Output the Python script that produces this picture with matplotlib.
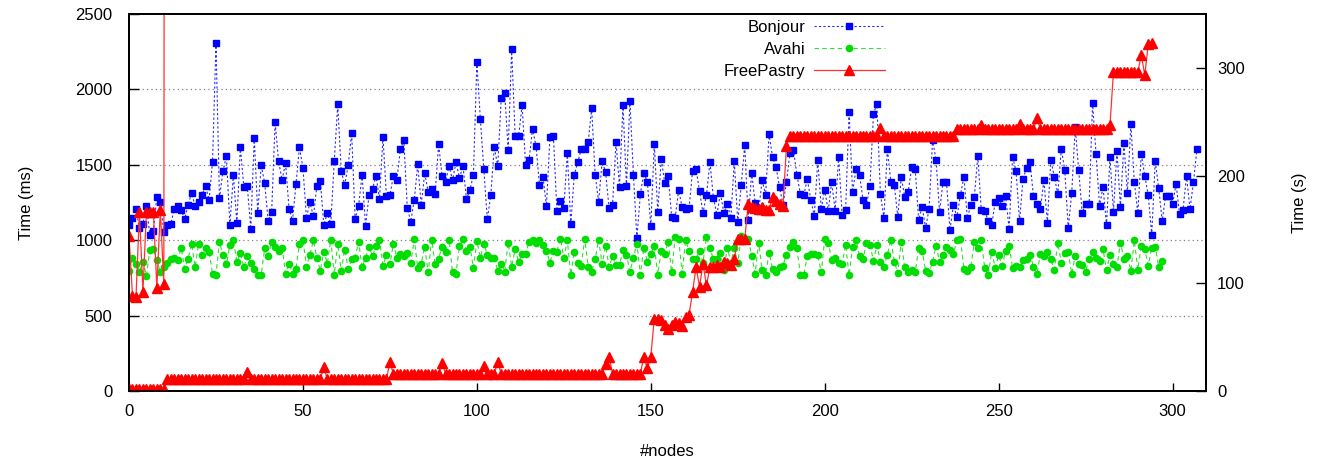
import numpy as np
import matplotlib
matplotlib.use('Agg')
from matplotlib import pyplot as plt

plt.rcParams['font.family'] = ['Liberation Sans', 'DejaVu Sans']

# Bonjour (ms), one value per node
bonjour = [1099, 1146, 1205, 1079, 1110, 1225, 1035, 1064, 1287, 1254,
           1057, 1101, 1106, 1205, 1229, 1198, 1141, 1234, 1313, 1227,
           1254, 1302, 1360, 1267, 1516, 2307, 1280, 1457, 1556, 1101,
           1433, 1115, 1618, 1353, 1360, 1075, 1678, 1181, 1497, 1380,
           1128, 1187, 1781, 1523, 1399, 1512, 1207, 1128, 1373, 1618,
           1479, 1148, 1251, 1159, 1360, 1391, 1101, 1179, 1108, 1525,
           1901, 1459, 1366, 1497, 1709, 1141, 1227, 1433, 1095, 1298,
           1340, 1426, 1274, 1684, 1293, 1300, 1426, 1399, 1603, 1662,
           1214, 1123, 1267, 1503, 1234, 1444, 1320, 1338, 1307, 1636,
           1426, 1386, 1492, 1399, 1516, 1413, 1492, 1274, 1333, 1433,
           2179, 1801, 1470, 1139, 1300, 1616, 1492, 1940, 1976, 1598,
           2265, 1691, 1691, 1894, 1499, 1532, 1737, 1625, 1366, 1419,
           1227, 1684, 1691, 1194, 1260, 1214, 1578, 1108, 1433, 1519,
           1603, 1605, 1651, 1874, 1433, 1254, 1523, 1452, 1214, 1234,
           1651, 1353, 1896, 1360, 1923, 1433, 1015, 1307, 1446, 1386,
           1095, 1638, 1187, 1539, 1380, 1426, 1154, 1148, 1333, 1220,
           1207, 1214, 1459, 1472, 1327, 1181, 1300, 1519, 1280, 1168,
           1313, 1181, 1240, 1148, 1525, 1121, 1366, 1631, 1134, 1446,
           1247, 1194, 1399, 1300, 1704, 1552, 1486, 1353, 1234, 1386,
           1578, 1598, 1433, 1307, 1300, 1406, 1267, 1161, 1532, 1207,
           1333, 1194, 1386, 1194, 1552, 1168, 1201, 1850, 1320, 1472,
           1433, 1267, 1234, 1360, 1837, 1903, 1307, 1148, 1605, 1386,
           1366, 1154, 1419, 1287, 1320, 1486, 1472, 1134, 1221, 1081,
           1207, 1664, 1532, 1187, 1386, 1386, 1068, 1234, 1154, 1300,
           1419, 1148, 1234, 1287, 1558, 1201, 1194, 1128, 1101, 1254,
           1280, 1227, 1293, 1075, 1552, 1459, 1128, 1406, 1479, 1519,
           1293, 1240, 1207, 1399, 1115, 1532, 1419, 1307, 1605, 1466,
           1081, 1313, 1750, 1466, 1181, 1240, 1240, 1909, 1572, 1227,
           1353, 1101, 1552, 1187, 1592, 1221, 1645, 1313, 1770, 1386,
           1181, 1572, 1426, 1300, 1035, 1525, 1346, 1128, 1293, 1293,
           1240, 1373, 1174, 1201, 1426, 1207, 1386, 1605]

# Avahi (ms)
avahi = [797, 885, 845, 792, 858, 764, 938, 940, 870, 786,
         825, 852, 874, 885, 870, 947, 812, 878, 978, 821,
         978, 905, 945, 925, 779, 772, 991, 900, 839, 971,
         998, 858, 918, 819, 898, 852, 812, 772, 772, 945,
         896, 991, 958, 931, 951, 779, 845, 779, 812, 978,
         1004, 825, 905, 998, 883, 799, 925, 845, 1004, 770,
         978, 799, 938, 810, 872, 885, 991, 819, 885, 958,
         892, 962, 1004, 832, 905, 839, 978, 883, 911, 894,
         918, 852, 1005, 817, 843, 958, 786, 1004, 839, 878,
         958, 925, 1004, 786, 779, 964, 1009, 927, 958, 817,
         995, 885, 975, 903, 885, 885, 797, 845, 792, 984,
         825, 940, 858, 907, 907, 991, 1004, 984, 1004, 971,
         931, 852, 931, 925, 1011, 885, 998, 770, 925, 852,
         832, 1009, 825, 790, 872, 1004, 839, 962, 823, 892,
         834, 834, 934, 903, 790, 883, 978, 770, 951, 858,
         911, 960, 772, 931, 911, 991, 786, 1020, 1011, 779,
         998, 931, 872, 872, 931, 852, 1020, 945, 872, 878,
         918, 803, 951, 850, 949, 847, 1025, 1011, 1011, 896,
         779, 984, 805, 772, 918, 812, 786, 819, 832, 905,
         958, 991, 945, 772, 770, 896, 911, 911, 905, 786,
         1011, 984, 870, 885, 852, 845, 971, 766, 958, 1004,
         892, 872, 984, 971, 865, 969, 858, 825, 903, 1004,
         858, 781, 989, 819, 786, 803, 786, 951, 929, 799,
         783, 858, 964, 858, 903, 958, 938, 911, 1002, 1011,
         812, 799, 825, 989, 945, 998, 814, 766, 925, 817,
         900, 832, 931, 964, 817, 832, 819, 870, 876, 905,
         825, 777, 909, 892, 925, 872, 805, 982, 852, 918,
         922, 777, 896, 843, 836, 792, 878, 925, 885, 865,
         940, 803, 903, 845, 819, 984, 878, 892, 797, 998,
         805, 964, 940, 832, 951, 958, 823, 865]

# FreePastry (s)
freepastry = [2, 2, 2, 2, 2, 2, 2, 2, 2, 2,
              2, 11, 11, 11, 11, 11, 11, 11, 11, 11,
              11, 11, 11, 11, 11, 11, 11, 11, 11, 11,
              11, 11, 11, 11, 18, 11, 11, 11, 11, 11,
              11, 11, 11, 11, 11, 11, 11, 11, 11, 11,
              11, 11, 11, 11, 11, 11, 22, 11, 11, 11,
              11, 11, 11, 11, 11, 11, 11, 11, 11, 11,
              11, 11, 11, 11, 11, 27, 16, 16, 16, 16,
              16, 16, 16, 16, 16, 16, 16, 16, 16, 16,
              26, 16, 16, 16, 16, 16, 16, 16, 16, 16,
              16, 16, 23, 16, 16, 16, 27, 16, 16, 16,
              16, 16, 16, 16, 16, 16, 16, 16, 16, 16,
              16, 16, 16, 16, 16, 16, 16, 16, 16, 16,
              16, 16, 16, 16, 16, 16, 16, 25, 32, 16,
              16, 16, 16, 16, 16, 16, 16, 16, 32, 21,
              32, 67, 67, 66, 61, 58, 61, 64, 63, 60,
              69, 71, 92, 115, 97, 118, 98, 115, 115, 117,
              115, 120, 119, 117, 123, 141, 141, 141, 174, 171,
              170, 169, 171, 168, 168, 180, 176, 174, 172, 227,
              237, 237, 237, 237, 237, 237, 237, 237, 237, 237,
              237, 237, 237, 237, 237, 237, 237, 237, 237, 237,
              237, 237, 237, 237, 237, 237, 244, 237, 237, 237,
              237, 237, 237, 237, 237, 237, 237, 237, 237, 237,
              237, 237, 237, 237, 237, 237, 237, 237, 243, 243,
              243, 243, 243, 243, 243, 247, 243, 243, 243, 243,
              243, 243, 243, 243, 243, 243, 248, 243, 243, 243,
              243, 253, 243, 243, 243, 243, 243, 243, 243, 243,
              243, 243, 243, 243, 243, 243, 243, 243, 243, 243,
              243, 243, 247, 296, 296, 296, 296, 296, 296, 296,
              296, 312, 293, 322, 323]

# first FreePastry run on the first nodes (last one goes off the scale)
fp_first_nodes = [0, 1, 2, 3, 4, 5, 6, 7, 8, 9, 10, 11]
fp_first = [144, 88, 87, 166, 92, 166, 166, 166, 96, 168, 99, 3000]

xticks = [0, 50, 100, 150, 200, 250, 300]
yticks_ms = [0, 500, 1000, 1500, 2000, 2500]
yticks_s = [0, 100, 200, 300]

blue = '#0000ff'
green = '#00dd00'
red = '#ff0000'

fig = plt.figure(figsize=(13.26, 4.63), dpi=100)
ax = fig.add_axes([0.0973, 0.1555, 0.8122, 0.8143])
ax2 = ax.twinx()

l1, = ax.plot(np.arange(len(bonjour)), bonjour, color='#2a2aff', lw=0.8,
              ls=(0, (2, 2)), marker='s', ms=5, mec=blue, mfc=blue,
              label='Bonjour')
l2, = ax.plot(np.arange(len(avahi)), avahi, color='#33dd33', lw=0.8,
              ls=(0, (4, 3)), marker='o', ms=4.5, mec=green, mfc=green,
              label='Avahi')
l3, = ax2.plot(np.arange(len(freepastry)), freepastry, color='#ff3030', lw=0.9,
               marker='^', ms=6.5, mec=red, mfc=red, label='FreePastry')
ax2.plot(fp_first_nodes, fp_first, color='#ff3030', lw=0.9,
         marker='^', ms=6.5, mec=red, mfc=red)

ax.set_xlim(0, 309.6)
ax.set_ylim(0, 2500)
ax2.set_ylim(0, 350)
ax.set_xticks(xticks)
ax.set_yticks(yticks_ms)
ax2.set_yticks(yticks_s)

for y in [500, 1000, 1500, 2000]:
    ax.axhline(y, color='#808080', lw=0.9, ls=(0, (1, 2.5)), zorder=0)

ax.tick_params(axis='y', direction='in', length=7, width=1, labelsize=12, pad=12)
ax.tick_params(axis='x', direction='in', length=6, width=1, labelsize=12, pad=9)
ax2.tick_params(axis='y', direction='in', length=7, width=1, labelsize=12, pad=8)
for a in (ax, ax2):
    for s in a.spines.values():
        s.set_linewidth(1.3)

ax.set_xlabel('#nodes', fontsize=12, labelpad=18)
ax.set_ylabel('Time (ms)', fontsize=12, labelpad=30)
ax2.set_ylabel('Time (s)', fontsize=12, labelpad=34)

ax2.legend(handles=[l1, l2, l3], loc='upper right', bbox_to_anchor=(0.713, 1.015),
           frameon=False, markerfirst=False, fontsize=12, handlelength=4.3,
           handletextpad=0.5, labelspacing=0.42, borderpad=0.2)

plt.savefig('out.png', dpi=100)
